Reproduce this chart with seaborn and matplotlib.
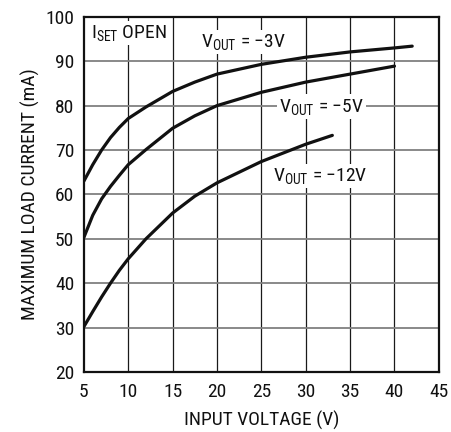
import matplotlib
matplotlib.use("Agg")
import matplotlib.pyplot as plt
import seaborn as sns
import pandas as pd

sns.set_style("white")
plt.rcParams["font.family"] = ["Roboto Condensed", "Archivo Narrow", "Liberation Sans", "DejaVu Sans"]
plt.rcParams["mathtext.default"] = "regular"

# Maximum load current vs input voltage, one curve per output voltage
vin_3v = [5, 6, 7, 8, 9, 10, 12, 15, 17.5, 20, 25, 30, 35, 40, 42]
iload_3v = [63.0, 66.7, 70.0, 72.8, 75.1, 77.1, 79.7, 83.2, 85.3, 87.1, 89.3, 90.9, 92.1, 93.0, 93.4]

vin_5v = [5, 6, 7, 8, 9, 10, 12, 15, 17.5, 20, 25, 30, 35, 40]
iload_5v = [50.3, 55.3, 59.0, 61.8, 64.3, 66.7, 70.1, 74.9, 77.7, 80.0, 83.0, 85.3, 87.1, 88.9]

vin_12v = [5, 6, 7, 8, 9, 10, 12, 15, 17.5, 20, 25, 30, 33]
iload_12v = [30.2, 33.6, 36.9, 40.0, 42.9, 45.5, 50.0, 55.8, 59.6, 62.6, 67.4, 71.3, 73.3]

series_names = ["-3V", "-5V", "-12V"]

frames = []
for name, xs, ys in zip(series_names, [vin_3v, vin_5v, vin_12v], [iload_3v, iload_5v, iload_12v]):
    frames.append(pd.DataFrame({"vin": xs, "iload": ys, "vout": name}))
df = pd.concat(frames, ignore_index=True)

fig = plt.figure(figsize=(4.51, 4.32), dpi=100)
ax = fig.add_axes([0.186, 0.139, 0.787, 0.822])

# grid: dark verticals, grey horizontals, drawn under the curves
for xv in range(10, 45, 5):
    ax.axvline(xv, color="#1a1a1a", lw=0.9, zorder=1)
for yv in range(30, 100, 10):
    ax.axhline(yv, color="#808080", lw=1.3, zorder=1)

sns.lineplot(data=df, x="vin", y="iload", hue="vout", units="vout", estimator=None,
             palette=["#111111"] * 3, linewidth=2.3, legend=False, sort=True, ax=ax, zorder=3)

ax.set_xlim(5, 45)
ax.set_ylim(20, 100)
ax.set_xticks(range(5, 50, 5))
ax.set_yticks(range(20, 110, 10))
ax.tick_params(length=0, labelsize=14, colors="#111111")
ax.tick_params(axis="x", pad=8)
ax.tick_params(axis="y", pad=7)
for s in ax.spines.values():
    s.set_linewidth(1.6)
    s.set_color("#111111")
    s.set_zorder(4)

ax.set_xlabel("INPUT VOLTAGE (V)", fontsize=14, color="#111111", labelpad=7)
ax.set_ylabel("MAXIMUM LOAD CURRENT (mA)", fontsize=14, color="#111111", labelpad=4)

box = dict(facecolor="white", edgecolor="none", pad=1.5)
label_kw = dict(fontsize=14, color="#111111", ha="center", va="center", zorder=2, bbox=box)
ax.text(10.1, 96.3, "I$_{SET}$ OPEN", **label_kw)
ax.text(23.0, 94.4, "V$_{OUT}$ = \u22123V", **label_kw)
ax.text(31.8, 79.8, "V$_{OUT}$ = \u22125V", **label_kw)
ax.text(31.6, 64.1, "V$_{OUT}$ = \u221212V", **label_kw)

fig.savefig("out.png", dpi=100)
